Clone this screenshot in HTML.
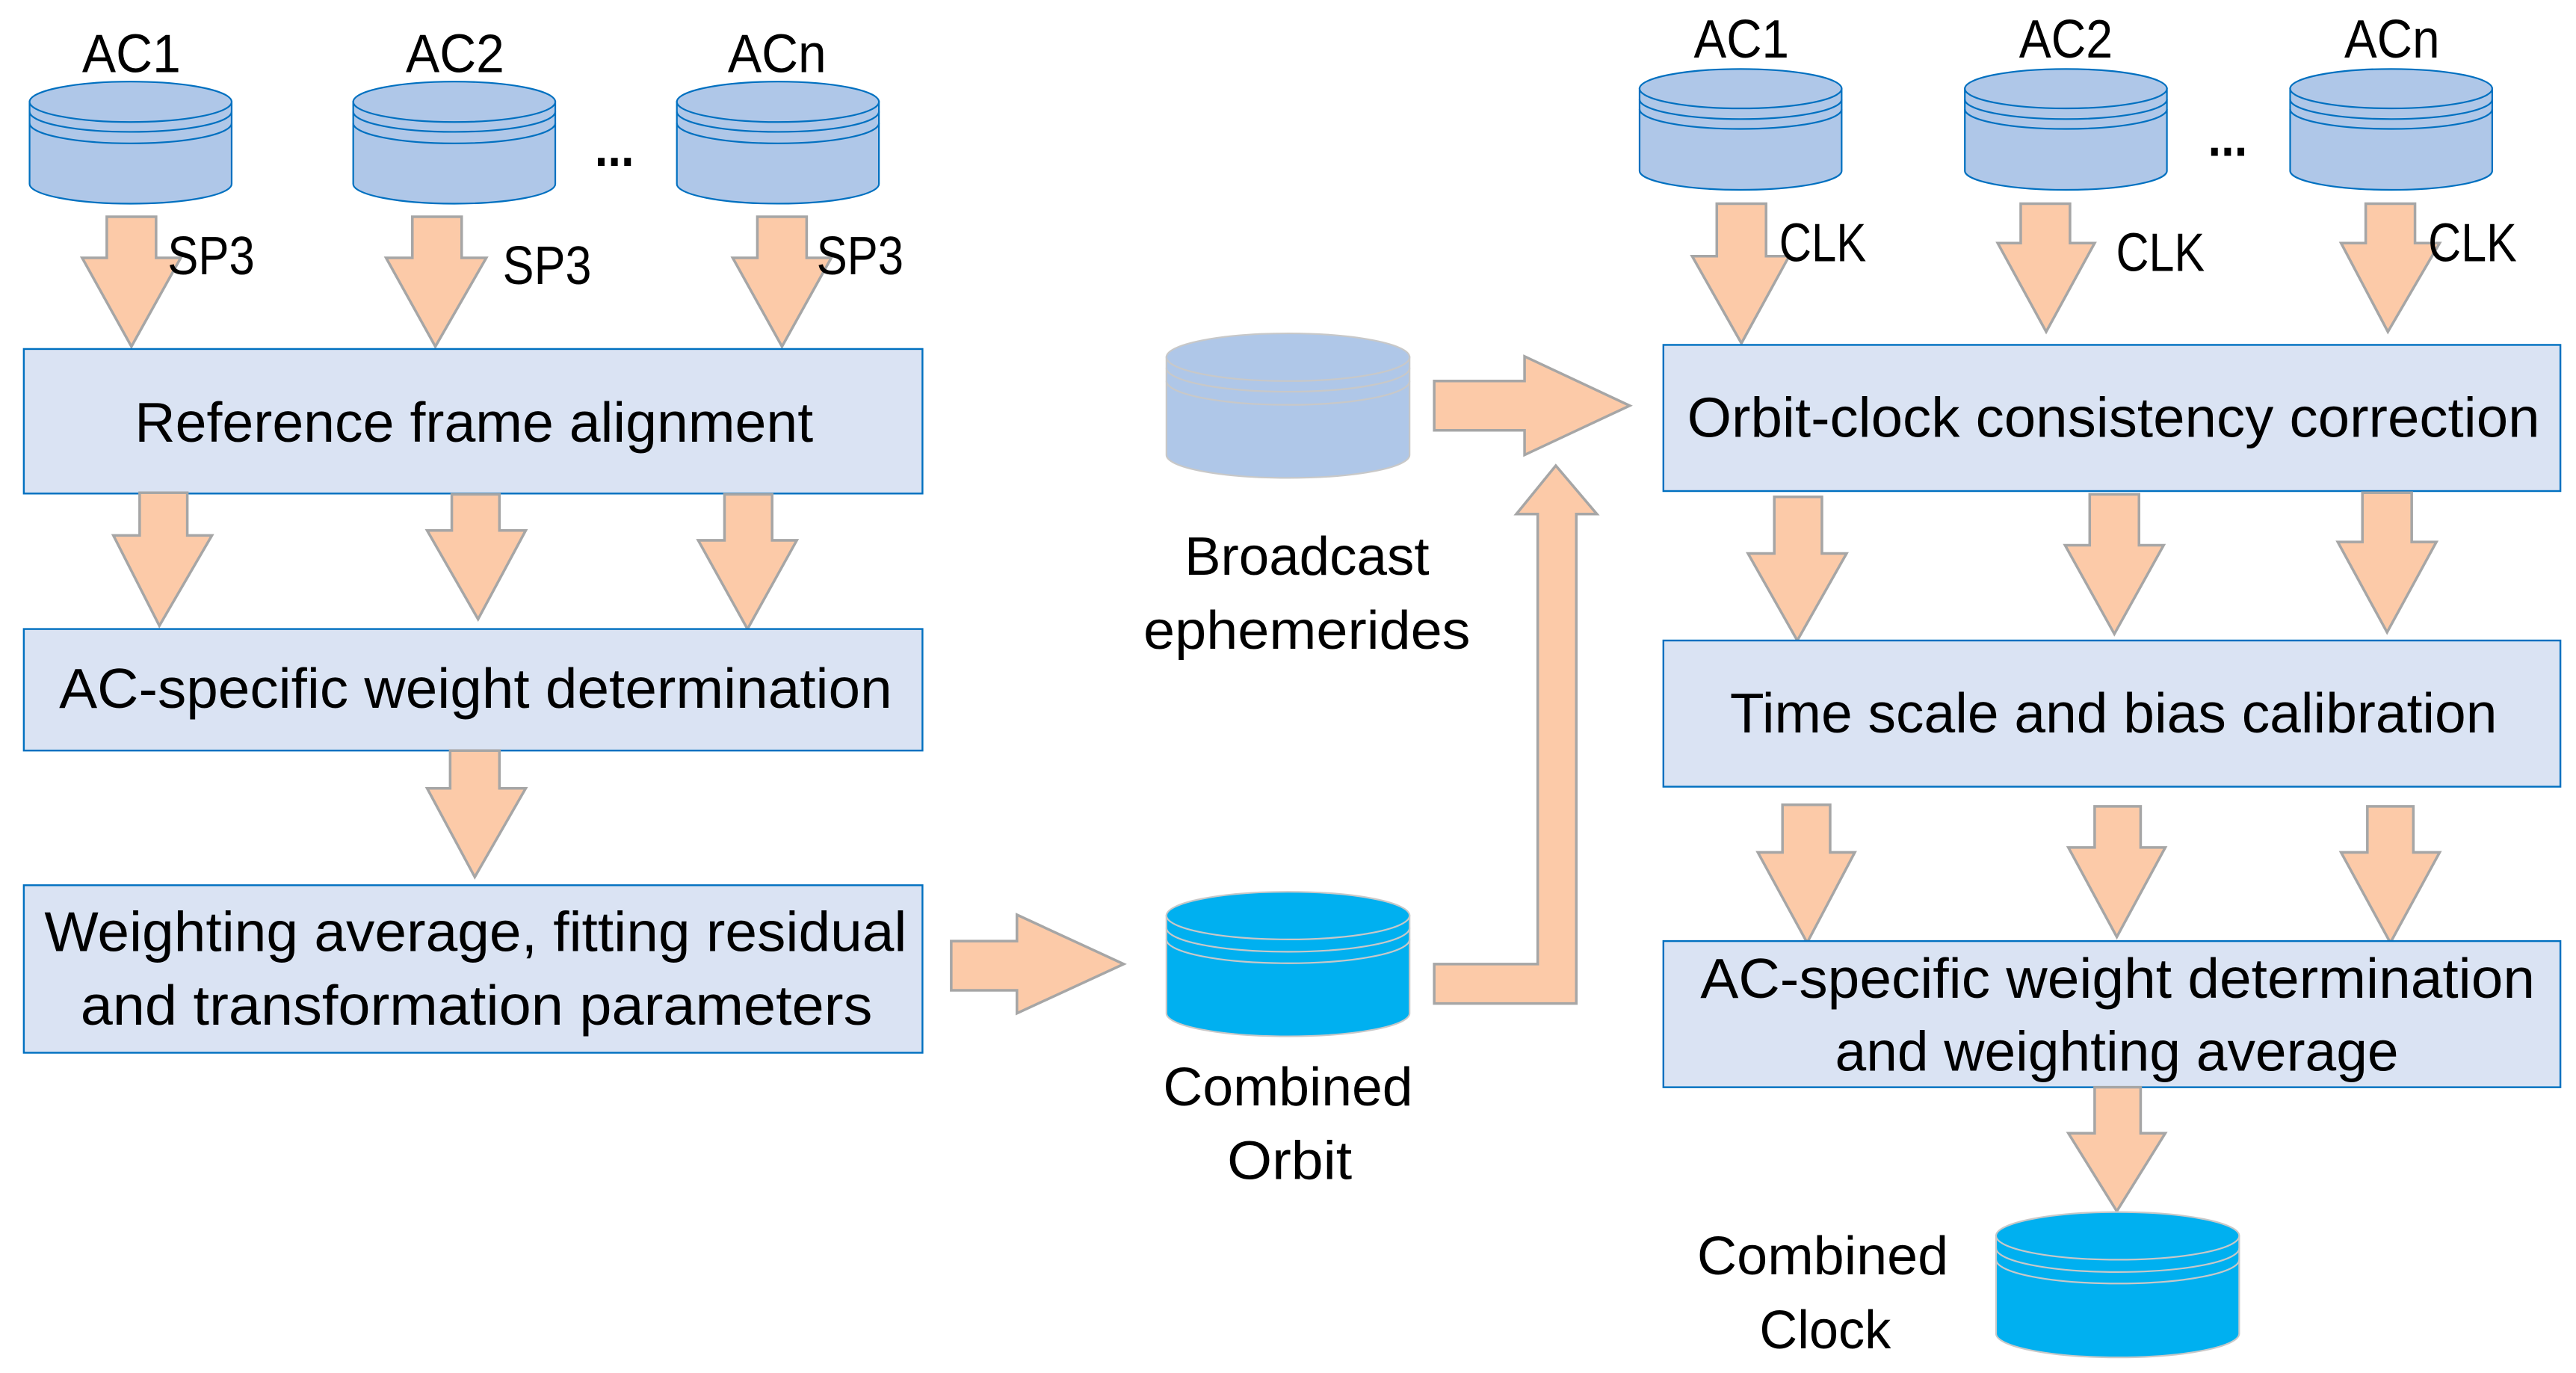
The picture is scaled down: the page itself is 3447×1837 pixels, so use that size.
<!DOCTYPE html>
<html><head><meta charset="utf-8"><style>html,body{margin:0;padding:0;background:#fff}svg{display:block}</style></head>
<body>
<svg width="3447" height="1837" viewBox="0 0 1568 836" preserveAspectRatio="none" xmlns="http://www.w3.org/2000/svg" font-family="'Liberation Sans', sans-serif">
<defs>
<style>
.ar{fill:#fccaa8;stroke:#a6a6a6;stroke-width:1.6}
.bx{fill:#dae3f3;stroke:#0070c0;stroke-width:1.1}
.cy{fill:#afc7e8;stroke:#0070c0;stroke-width:1}
.cyl{fill:none;stroke:#0070c0;stroke-width:1}
.cg{fill:#afc7e8;stroke:#c8c8c8;stroke-width:1}
.cgl{fill:none;stroke:#c8c8c8;stroke-width:1}
.cb{fill:#00b0f0;stroke:#c8c8c8;stroke-width:1}
text{fill:#000;font-size:33px}
.t{font-size:34px}
</style>
</defs>

<path class="cy" d="M18,62 L18,112 A61.5,12 0 0 0 141,112 L141,62 Z"/>
<ellipse class="cy" cx="79.5" cy="62" rx="61.5" ry="12.3"/>
<path class="cyl" d="M18,68 A61.5,12.3 0 0 0 141,68 M18,75 A61.5,12.3 0 0 0 141,75"/>
<path class="cy" d="M215,62 L215,112 A61.5,12 0 0 0 338,112 L338,62 Z"/>
<ellipse class="cy" cx="276.5" cy="62" rx="61.5" ry="12.3"/>
<path class="cyl" d="M215,68 A61.5,12.3 0 0 0 338,68 M215,75 A61.5,12.3 0 0 0 338,75"/>
<path class="cy" d="M412,62 L412,112 A61.5,12 0 0 0 535,112 L535,62 Z"/>
<ellipse class="cy" cx="473.5" cy="62" rx="61.5" ry="12.3"/>
<path class="cyl" d="M412,68 A61.5,12.3 0 0 0 535,68 M412,75 A61.5,12.3 0 0 0 535,75"/>
<text x="50" y="44" textLength="60" lengthAdjust="spacingAndGlyphs">AC1</text>
<text x="247" y="44" textLength="60" lengthAdjust="spacingAndGlyphs">AC2</text>
<text x="443" y="44" textLength="60" lengthAdjust="spacingAndGlyphs">ACn</text>
<text x="362" y="101" textLength="24" lengthAdjust="spacingAndGlyphs" font-weight="bold">...</text>

<polygon class="ar" points="65,132 95,132 95,157 110,157 80,211 50,157 65,157"/>
<polygon class="ar" points="251,132 281,132 281,157 296,157 265,211 235,157 251,157"/>
<polygon class="ar" points="461,132 491,132 491,157 506,157 476,211 446,157 461,157"/>
<text x="102" y="167" textLength="53" lengthAdjust="spacingAndGlyphs">SP3</text>
<text x="306" y="173" textLength="54" lengthAdjust="spacingAndGlyphs">SP3</text>
<text x="497" y="167" textLength="53" lengthAdjust="spacingAndGlyphs">SP3</text>

<rect class="bx" x="14.5" y="212.5" width="547" height="88"/>
<text class="t" x="82" y="269" textLength="413" lengthAdjust="spacingAndGlyphs">Reference frame alignment</text>

<polygon class="ar" points="85,300 114,300 114,326 129,326 97,381 69,326 85,326"/>
<polygon class="ar" points="275,301 304,301 304,323 320,323 291,377 260,323 275,323"/>
<polygon class="ar" points="441,301 470,301 470,329 485,329 455,383 425,329 441,329"/>

<rect class="bx" x="14.5" y="383" width="547" height="74"/>
<text class="t" x="36" y="431" textLength="507" lengthAdjust="spacingAndGlyphs">AC-specific weight determination</text>

<polygon class="ar" points="274,457 304,457 304,480 320,480 289,534 260,480 274,480"/>

<rect class="bx" x="14.5" y="539" width="547" height="102"/>
<text class="t" x="27" y="579" textLength="525" lengthAdjust="spacingAndGlyphs">Weighting average, fitting residual</text>
<text class="t" x="49" y="624" textLength="482" lengthAdjust="spacingAndGlyphs">and transformation parameters</text>

<polygon class="ar" points="579,573 619,573 619,557 684,587 619,617 619,603 579,603"/>
<path class="cg" d="M710,217.5 L710,277 A74,14 0 0 0 858,277 L858,217.5 Z"/>
<ellipse class="cg" cx="784" cy="217.5" rx="74" ry="14.5"/>
<path class="cgl" d="M710,224 A74,14.5 0 0 0 858,224 M710,232 A74,14.5 0 0 0 858,232"/>
<text x="721" y="350" textLength="149" lengthAdjust="spacingAndGlyphs">Broadcast</text>
<text x="696" y="395" textLength="199" lengthAdjust="spacingAndGlyphs">ephemerides</text>
<polygon class="ar" points="873,232 928,232 928,217 992,247 928,277 928,262 873,262"/>

<path class="cb" d="M710,557.5 L710,617 A74,14 0 0 0 858,617 L858,557.5 Z"/>
<ellipse class="cb" cx="784" cy="557.5" rx="74" ry="14.5"/>
<path class="cgl" d="M710,565 A74,14.5 0 0 0 858,565 M710,572 A74,14.5 0 0 0 858,572"/>
<text x="708" y="673" textLength="152" lengthAdjust="spacingAndGlyphs">Combined</text>
<text x="747" y="718" textLength="76" lengthAdjust="spacingAndGlyphs">Orbit</text>
<polygon class="ar" points="873,587 936,587 936,313 923,313 947,283.5 972,313 959.5,313 959.5,611 873,611"/>

<path class="cy" d="M998,54 L998,104 A61.5,11.6 0 0 0 1121,104 L1121,54 Z"/>
<ellipse class="cy" cx="1059.5" cy="54" rx="61.5" ry="12"/>
<path class="cyl" d="M998,60.5 A61.5,12 0 0 0 1121,60.5 M998,66.5 A61.5,12 0 0 0 1121,66.5"/>
<path class="cy" d="M1196,54 L1196,104 A61.5,11.6 0 0 0 1319,104 L1319,54 Z"/>
<ellipse class="cy" cx="1257.5" cy="54" rx="61.5" ry="12"/>
<path class="cyl" d="M1196,60.5 A61.5,12 0 0 0 1319,60.5 M1196,66.5 A61.5,12 0 0 0 1319,66.5"/>
<path class="cy" d="M1394,54 L1394,104 A61.5,11.6 0 0 0 1517,104 L1517,54 Z"/>
<ellipse class="cy" cx="1455.5" cy="54" rx="61.5" ry="12"/>
<path class="cyl" d="M1394,60.5 A61.5,12 0 0 0 1517,60.5 M1394,66.5 A61.5,12 0 0 0 1517,66.5"/>
<text x="1031" y="35" textLength="58" lengthAdjust="spacingAndGlyphs">AC1</text>
<text x="1229" y="35" textLength="57" lengthAdjust="spacingAndGlyphs">AC2</text>
<text x="1427" y="35" textLength="58" lengthAdjust="spacingAndGlyphs">ACn</text>
<text x="1344" y="95" textLength="24" lengthAdjust="spacingAndGlyphs" font-weight="bold">...</text>

<polygon class="ar" points="1045,124 1075,124 1075,156 1089,156 1060,209 1030,156 1045,156"/>
<polygon class="ar" points="1230,124 1260,124 1260,148 1275,148 1245.5,202 1216,148 1230,148"/>
<polygon class="ar" points="1440,124 1470,124 1470,148 1485,148 1453.5,202 1425,148 1440,148"/>
<text x="1083" y="159" textLength="53" lengthAdjust="spacingAndGlyphs">CLK</text>
<text x="1288" y="165" textLength="54" lengthAdjust="spacingAndGlyphs">CLK</text>
<text x="1478" y="159" textLength="54" lengthAdjust="spacingAndGlyphs">CLK</text>

<rect class="bx" x="1012.5" y="210" width="546" height="89"/>
<text class="t" x="1027" y="266" textLength="519" lengthAdjust="spacingAndGlyphs">Orbit-clock consistency correction</text>

<polygon class="ar" points="1080,302.5 1109,302.5 1109,337 1124,337 1094,390 1064,337 1080,337"/>
<polygon class="ar" points="1272,301 1302,301 1302,332 1317,332 1287,386 1257,332 1272,332"/>
<polygon class="ar" points="1438,300 1468,300 1468,330 1483,330 1453,385 1423,330 1438,330"/>

<rect class="bx" x="1012.5" y="390" width="546" height="89"/>
<text class="t" x="1053" y="446" textLength="467" lengthAdjust="spacingAndGlyphs">Time scale and bias calibration</text>

<polygon class="ar" points="1085,490 1114,490 1114,519 1129,519 1100,574 1070,519 1085,519"/>
<polygon class="ar" points="1275,491 1303,491 1303,516 1318,516 1288.5,570.5 1259,516 1275,516"/>
<polygon class="ar" points="1441,491 1469,491 1469,519 1485,519 1455,574 1425,519 1441,519"/>

<rect class="bx" x="1012.5" y="573" width="546" height="89"/>
<text class="t" x="1035" y="607.5" textLength="508" lengthAdjust="spacingAndGlyphs">AC-specific weight determination</text>
<text class="t" x="1117" y="652" textLength="343" lengthAdjust="spacingAndGlyphs">and weighting average</text>

<polygon class="ar" points="1275,662 1303,662 1303,690 1318,690 1288.5,737.5 1259,690 1275,690"/>

<path class="cb" d="M1215,752.5 L1215,812 A74,14.5 0 0 0 1363,812 L1363,752.5 Z"/>
<ellipse class="cb" cx="1289" cy="752.5" rx="74" ry="14.5"/>
<path class="cgl" d="M1215,760 A74,14.5 0 0 0 1363,760 M1215,767 A74,14.5 0 0 0 1363,767"/>
<text x="1033" y="776" textLength="153" lengthAdjust="spacingAndGlyphs">Combined</text>
<text x="1071" y="821" textLength="80" lengthAdjust="spacingAndGlyphs">Clock</text>
</svg>
</body></html>
